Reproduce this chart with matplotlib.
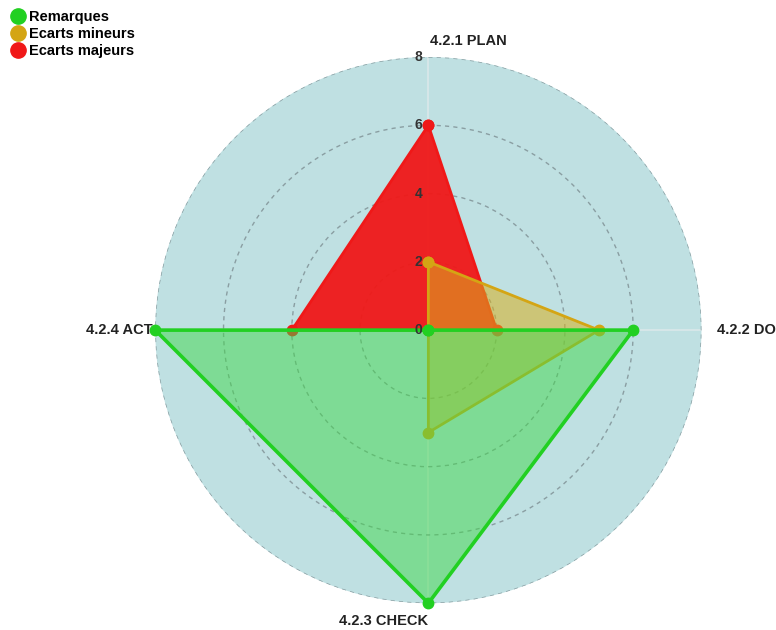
import matplotlib
matplotlib.use('Agg')
import matplotlib.pyplot as plt
from matplotlib.lines import Line2D
import numpy as np

plt.rcParams['font.family'] = ['Liberation Sans', 'DejaVu Sans']

categories = ['4.2.1 PLAN', '4.2.2 DO', '4.2.3 CHECK', '4.2.4 ACT']
series_names = ['Remarques', 'Ecarts mineurs', 'Ecarts majeurs']
remarques = [0, 6, 8, 8]
mineurs = [2, 5, 3, 0]
majeurs = [6, 2, 0, 4]
rticks = [0, 2, 4, 6, 8]

angles = np.arange(len(categories)) * 2 * np.pi / len(categories)
closed = np.concatenate([angles, angles[:1]])

fig = plt.figure(figsize=(7.76, 6.30), dpi=100)
ax = fig.add_axes([0.200, 0.0425, 0.704, 0.867], projection='polar')
ax.set_theta_offset(np.pi / 2)
ax.set_theta_direction(-1)
ax.set_facecolor('#bfe0e2')
ax.spines['polar'].set_visible(False)
ax.set_ylim(0, 8)

# series: (values, line colour, fill colour, fill alpha, zorder)
styles = [
    (majeurs, '#f01818', '#f01818', 0.95, 3),
    (mineurs, '#d4a514', '#d8b020', 0.55, 4),
    (remarques, '#22d022', '#3fd84a', 0.5, 5),
]
for vals, lc, fc, a, z in styles:
    v = np.concatenate([vals, vals[:1]])
    ax.fill(closed, v, color=fc, alpha=a, zorder=z, lw=0)
    ax.plot(closed, v, color=lc, lw=2.6 if lc == '#22d022' else 2,
            marker='o', ms=7.5, zorder=z + 0.5, clip_on=False)

ax.set_xticks(angles)
ax.set_xticklabels([])
ax.xaxis.grid(True, color='#d5e6e8', lw=1.5, ls='-')
ax.set_yticks(rticks[1:])
ax.set_yticklabels([])
ax.yaxis.grid(True, color='#8a9ea2', lw=1, ls=(0, (3, 3)))

for r in rticks:
    ax.annotate(str(r), xy=(0, r), xytext=(-7, 0), textcoords='offset points',
                ha='center', va='center', fontsize=10, color='#333333',
                fontweight='bold', zorder=10)

lab_off = [((1, 11.5), 'left'), ((11, 0), 'left'), ((0, -13), 'right'), ((-2, 0), 'right')]
for a, c, (off, ha) in zip(angles, categories, lab_off):
    ax.annotate(c, xy=(a, 8), xytext=off, textcoords='offset points', ha=ha,
                va='center', fontsize=10.5, fontweight='bold', color='#222222',
                annotation_clip=False)

leg_handles = [Line2D([], [], marker='o', ls='', ms=11, color=c)
               for c in ['#22d022', '#d4a514', '#f01818']]
fig.legend(leg_handles, series_names, loc='upper left', bbox_to_anchor=(0.0, 1.0),
           frameon=False, prop={'weight': 'bold', 'size': 10.5}, handletextpad=0.3,
           labelspacing=0.2, borderaxespad=0.3, handlelength=1.0)

fig.savefig('out.png', dpi=100)
